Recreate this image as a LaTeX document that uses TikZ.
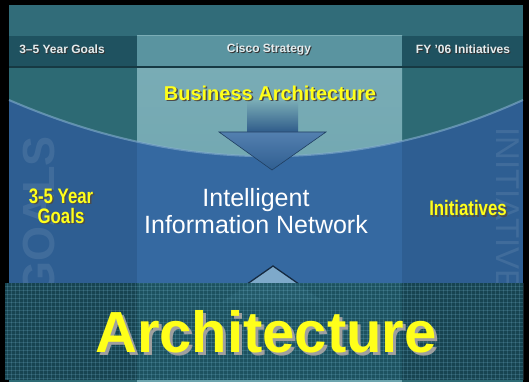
\documentclass[tikz,border=0pt]{standalone}
\usepackage{fontspec}
\setmainfont{Liberation Sans}
\newfontfamily\narrowsans[FakeStretch=0.8]{Liberation Sans}
\usepackage{tikz}
\definecolor{topteal}{HTML}{316C79}
\definecolor{headdark}{HTML}{1F5260}
\definecolor{headmid}{HTML}{5A94A0}
\definecolor{sideteal}{HTML}{2D6A74}
\definecolor{midteal}{HTML}{6CA4AE}
\definecolor{sideblue}{HTML}{2E5E92}
\definecolor{midblue}{HTML}{3569A1}
\definecolor{bandteal}{HTML}{1A4C5A}
\definecolor{bandmid}{HTML}{24606F}
\definecolor{glow}{HTML}{86B0CF}
\definecolor{goldtext}{HTML}{FFFF1A}
\definecolor{headwhite}{HTML}{E4ECEE}
\tikzstyle{headtext}=[inner sep=0pt, text=headwhite, font=\bfseries\fontsize{12}{14}\selectfont]
\tikzstyle{headshade}=[inner sep=0pt, text=black!80, font=\bfseries\fontsize{12}{14}\selectfont]
\tikzstyle{sidelabel}=[inner sep=0pt, align=center, text=goldtext, font=\narrowsans\bfseries\fontsize{21}{20}\selectfont]
\tikzstyle{sideshade}=[inner sep=0pt, align=center, text=black!70, font=\narrowsans\bfseries\fontsize{21}{20}\selectfont]
\tikzstyle{ghost}=[inner sep=0pt, text=white, text opacity=0.09]
\tikzstyle{gridline}=[draw=cyan!40!white, line width=0.4pt, opacity=0.16]

\begin{document}
\begin{tikzpicture}[x=1pt, y=-1pt]
\useasboundingbox (0,0) rectangle (529,382);
\fill[black] (0,0) rectangle (529,382);
% columns and header row
\fill[topteal] (9,5) rectangle (523,36);
\fill[sideteal] (9,36) rectangle (523,283);
\shade[top color=midteal!90!white, bottom color=midteal] (137,36) rectangle (402,283);
\fill[headdark] (9,36) rectangle (137,67);
\fill[headdark] (402,36) rectangle (523,67);
\fill[headmid] (137,36) rectangle (402,67);
\draw[headdark!70!black, line width=1.2pt] (9,67) -- (523,67);
% blue bowl
\begin{scope}
\clip (9,100) .. controls (183,175) and (357,175) .. (523,100) |- (9,283) -- cycle;
\fill[sideblue] (9,0) rectangle (523,283);
\fill[midblue] (137,0) rectangle (402,283);
\node[ghost, rotate=90, anchor=east, font=\bfseries\fontsize{45}{45}\selectfont] (goals-wm) at (39,136) {GOALS};
\node[ghost, rotate=-90, anchor=west, font=\fontsize{33}{33}\selectfont] (init-wm) at (508,127) {INITIATIVES};
\end{scope}
\draw[glow, line width=2pt, opacity=0.6] (9,100) .. controls (183,175) and (357,175) .. (523,100);
% arrow down
\shade[top color=midteal!90!white, bottom color=midblue!85!black] (247,100) rectangle (298,133);
\shade[top color=midblue!85!white, bottom color=midblue!90!black, draw=midblue!60!black, line width=0.6pt]
  (219,132) -- (326,132) -- (272,170) -- cycle;
% arrow up
\fill[glow!90!midblue] (273,266) -- (222,302) -- (324,302) -- cycle;
\draw[midblue!40!black, line width=1.3pt] (230,296) -- (273,266) -- (316,296);
% band
\fill[bandteal, opacity=0.9] (5,283) rectangle (523,380);
\fill[bandmid, opacity=0.5] (137,283) rectangle (402,380);
\foreach \gx in {7,11,...,523} \draw[gridline] (\gx,283) -- (\gx,380);
\foreach \gy in {286,290,...,380} \draw[gridline] (5,\gy) -- (523,\gy);
\fill[sideteal] (9,380) rectangle (523,382);
\fill[midteal] (137,380) rectangle (402,382);
% header texts
\node[headshade] (goals-hs) at (63,50) {3--5 Year Goals};
\node[headtext] (goals-hd) at (62,49) {3--5 Year Goals};
\node[headshade] (strategy-hs) at (270,50) {Cisco Strategy};
\node[headtext] (strategy-hd) at (269,49) {Cisco Strategy};
\node[headshade] (fy-hs) at (464,50) {FY '06 Initiatives};
\node[headtext] (fy-hd) at (463,49) {FY '06 Initiatives};
% labels
\node[inner sep=0pt, text=black!70, font=\bfseries\fontsize{20}{22}\selectfont] (business-s) at (271.5,94.5) {Business Architecture};
\node[inner sep=0pt, text=goldtext, font=\bfseries\fontsize{20}{22}\selectfont] (business) at (270,93) {Business Architecture};
\node[sideshade] (goals-s) at (62.5,207.5) {3-5 Year\\Goals};
\node[sidelabel] (goals) at (61,206) {3-5 Year\\Goals};
\node[inner sep=0pt, align=center, text=white, font=\fontsize{25}{27}\selectfont] (network) at (256,211) {Intelligent\\Information Network};
\node[sideshade] (init-s) at (469.5,209.5) {Initiatives};
\node[sidelabel] (init) at (468,208) {Initiatives};
\node[inner sep=0pt, text=gray!75, font=\bfseries\fontsize{58}{60}\selectfont] (arch-s) at (269,334.5) {Architecture};
\node[inner sep=0pt, text=goldtext, font=\bfseries\fontsize{58}{60}\selectfont] (arch) at (266,331.5) {Architecture};
\end{tikzpicture}
\end{document}
